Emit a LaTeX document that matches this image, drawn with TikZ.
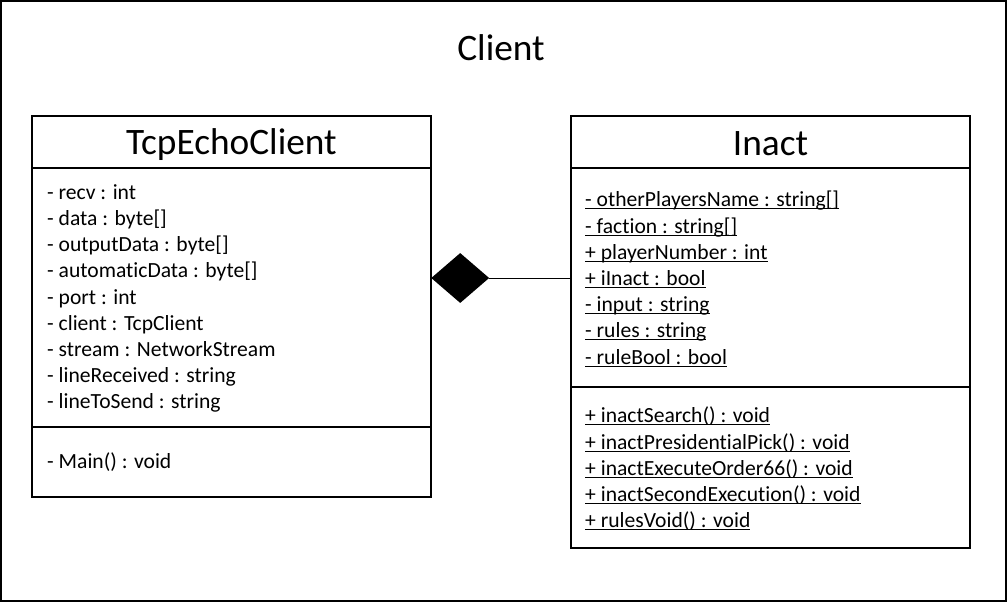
\documentclass[tikz,border=0pt]{standalone}
\usepackage{fontspec}
\setmainfont[Ligatures=NoCommon]{Carlito}
\usetikzlibrary{shapes.geometric}
\newcommand\myul[1]{\setbox0\hbox{#1}\rlap{\rule[-2.4pt]{\wd0}{0.9pt}}\box0}
\tikzset{
  umlbox/.style={draw, line width=1.6pt, rectangle, inner sep=0pt},
  sep/.style={line width=1.6pt},
  attr/.style={anchor=base west, inner sep=0pt, font=\fontsize{21.6}{25}\selectfont},
  ttl/.style={anchor=base, inner sep=0pt, font=\fontsize{37.33}{40}\selectfont},
}
\begin{document}
\begin{tikzpicture}[x=1pt,y=-1pt]
\useasboundingbox (0,0) rectangle (1007,602);
\draw[line width=2pt] (1,1) rectangle (1006,601);
\node[ttl] (client) at (501,61) {Client};
% left box
\node[umlbox, minimum width=399pt, minimum height=381pt] (tcp) at (231.5,306.5) {};
\node[ttl] (tcpt) at (231.5,154) {TcpEchoClient};
\draw[sep] (32,168) -- (431,168);
\draw[sep] (32,427) -- (431,427);
\node[attr] (a1) at (47,199.3) {- recv : int};
\node[attr] (a2) at (47,225.5) {- data : byte[]};
\node[attr] (a3) at (47,251.7) {- outputData : byte[]};
\node[attr] (a4) at (47,277.9) {- automaticData : byte[]};
\node[attr] (a5) at (47,304.1) {- port : int};
\node[attr] (a6) at (47,330.3) {- client : TcpClient};
\node[attr] (a7) at (47,356.5) {- stream : NetworkStream};
\node[attr] (a8) at (47,382.7) {- lineReceived : string};
\node[attr] (a9) at (47,408.9) {- lineToSend : string};
\node[attr] (m1) at (47,468.5) {- Main() : void};
% right box
\node[umlbox, minimum width=399pt, minimum height=432pt] (inact) at (770.5,332) {};
\node[ttl] (inactt) at (770.5,155) {Inact};
\draw[sep] (571,168) -- (970,168);
\draw[sep] (571,387) -- (970,387);
\node[attr] (b1) at (585,206.7) {\myul{- otherPlayersName : string[]}};
\node[attr] (b2) at (585,233) {\myul{- faction : string[]}};
\node[attr] (b3) at (585,259.3) {\myul{+ playerNumber : int}};
\node[attr] (b4) at (585,285.5) {\myul{+ iInact : bool}};
\node[attr] (b5) at (585,311.7) {\myul{- input : string}};
\node[attr] (b6) at (585,337.9) {\myul{- rules : string}};
\node[attr] (b7) at (585,364.1) {\myul{- ruleBool : bool}};
\node[attr] (c1) at (585,422.7) {\myul{+ inactSearch() : void}};
\node[attr] (c2) at (585,449) {\myul{+ inactPresidentialPick() : void}};
\node[attr] (c3) at (585,475.3) {\myul{+ inactExecuteOrder66() : void}};
\node[attr] (c4) at (585,501.5) {\myul{+ inactSecondExecution() : void}};
\node[attr] (c5) at (585,527.7) {\myul{+ rulesVoid() : void}};
% composition
\node[diamond, fill=black, inner sep=0pt, minimum width=58pt, minimum height=50pt, anchor=west] (dia) at (431,278) {};
\draw[line width=1pt] (dia.east) -- (dia.east -| inact.west);
\end{tikzpicture}
\end{document}
